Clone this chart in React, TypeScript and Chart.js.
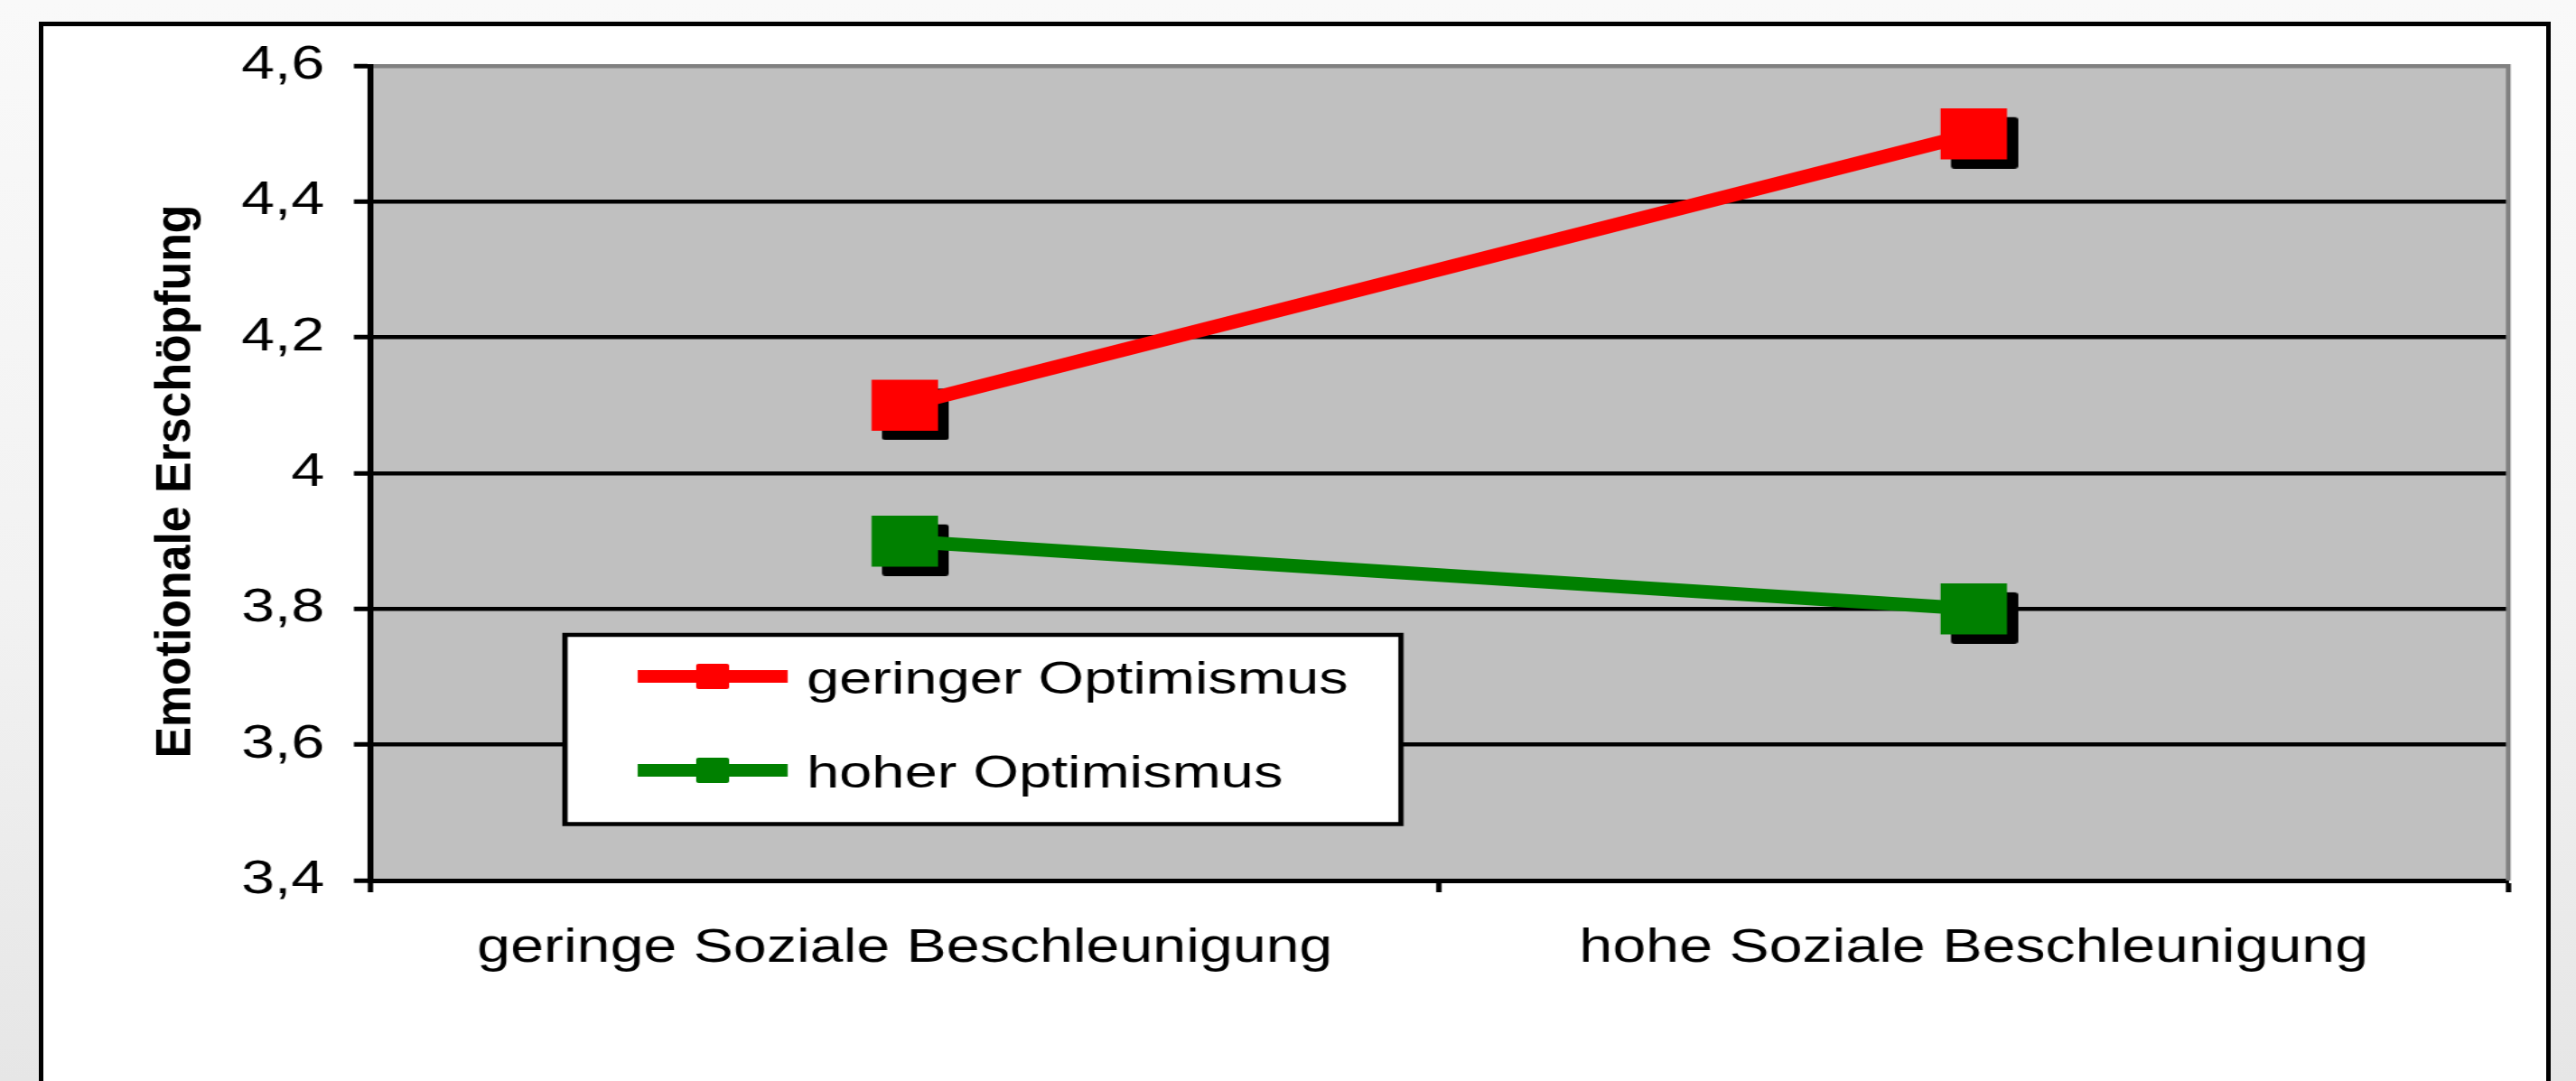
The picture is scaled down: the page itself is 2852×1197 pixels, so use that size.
import React, { useEffect, useRef } from 'react';
import { Chart, registerables } from 'chart.js';

Chart.register(...registerables);

// ---- data ----
const categories = ['geringe Soziale Beschleunigung', 'hohe Soziale Beschleunigung'];
const seriesNames = ['geringer Optimismus', 'hoher Optimismus'];
const geringerOptimismus = [4.1, 4.5];
const hoherOptimismus = [3.9, 3.8];
const seriesColors = ['#ff0000', '#008000'];
const yTickLabels = ['3,4', '3,6', '3,8', '4', '4,2', '4,4', '4,6'];
const yMin = 3.4;
const yMax = 4.6;
const yStep = 0.2;
const yTitle = 'Emotionale Erschöpfung';

// ---- layout ----
const PAGE_W = 2852;
const PAGE_H = 1197;
const CANVAS_W = 2194;
const SX = PAGE_W / CANVAS_W; // horizontal stretch of the original rendering
const FONT = '"Liberation Sans", Arial, Helvetica, sans-serif';
const px = (pageX: number) => pageX / SX;

function makeShadowImage() {
  const m = 57, dx = 9, dy = 10;
  const c = document.createElement('canvas');
  c.width = m + 2 * dx;
  c.height = m + 2 * dy;
  const g = c.getContext('2d')!;
  g.fillStyle = '#000';
  g.beginPath();
  (g as any).roundRect(2 * dx, 2 * dy, m, m, 3);
  g.fill();
  return c;
}

const plotBg = {
  id: 'plotBg',
  beforeDraw(chart: any) {
    const { ctx, chartArea: a } = chart;
    ctx.save();
    ctx.fillStyle = '#c0c0c0';
    ctx.fillRect(a.left, a.top, a.right - a.left, a.bottom - a.top);
    ctx.restore();
  },
  beforeDatasetsDraw(chart: any) {
    const { ctx, chartArea: a } = chart;
    ctx.save();
    ctx.strokeStyle = '#808080';
    ctx.lineWidth = 4;
    ctx.beginPath();
    ctx.moveTo(a.right, a.top - 2);
    ctx.lineTo(a.right, a.bottom);
    ctx.stroke();
    ctx.restore();
  },
};

const yTitlePlugin = {
  id: 'yTitleStretched',
  afterDraw(chart: any) {
    const { ctx } = chart;
    ctx.save();
    ctx.translate(px(210), 533);
    ctx.scale(1 / SX, 1);
    ctx.rotate(-Math.PI / 2);
    ctx.font = `bold 55px ${FONT}`;
    const w = ctx.measureText(yTitle).width;
    ctx.scale(613 / w, 1);
    ctx.textAlign = 'center';
    ctx.textBaseline = 'alphabetic';
    ctx.fillStyle = '#000';
    ctx.fillText(yTitle, 0, 0);
    ctx.restore();
  },
};

const legendPlugin = {
  id: 'legendBox',
  afterDatasetsDraw(chart: any) {
    const { ctx } = chart;
    const ds = chart.data.datasets.filter((d: any) => !d.isShadow);
    ctx.save();
    const x1 = px(625.5), x2 = px(1551), y1 = 703, y2 = 912.5;
    ctx.fillStyle = '#fff';
    ctx.fillRect(x1, y1, x2 - x1, y2 - y1);
    ctx.strokeStyle = '#000';
    ctx.lineWidth = 4.5;
    ctx.strokeRect(x1, y1, x2 - x1, y2 - y1);
    ds.forEach((d: any, i: number) => {
      const y = 749 + i * 104;
      ctx.strokeStyle = d.borderColor;
      ctx.lineWidth = 14;
      ctx.lineCap = 'butt';
      ctx.beginPath();
      ctx.moveTo(px(706), y);
      ctx.lineTo(px(872), y);
      ctx.stroke();
      ctx.fillStyle = d.backgroundColor;
      ctx.beginPath();
      ctx.roundRect(px(789) - 14, y - 14, 28, 28, 2);
      ctx.fill();
      ctx.fillStyle = '#000';
      ctx.font = `50px ${FONT}`;
      ctx.textAlign = 'left';
      ctx.textBaseline = 'alphabetic';
      ctx.fillText(d.label, px(893), y + 19);
    });
    ctx.restore();
  },
};

export default function App() {
  const ref = useRef<HTMLCanvasElement>(null);

  useEffect(() => {
    const shadow = makeShadowImage();
    const seriesData = [geringerOptimismus, hoherOptimismus];
    const lineSets = seriesData.map((data, i) => ({
      label: seriesNames[i],
      data,
      borderColor: seriesColors[i],
      backgroundColor: seriesColors[i],
      borderWidth: 15,
      tension: 0,
      pointStyle: 'rect',
      pointRadius: 40,
      pointHoverRadius: 40,
      pointBorderWidth: 0,
      pointBackgroundColor: seriesColors[i],
      order: 1,
    }));
    const shadowSets = seriesData.map((data, i) => ({
      label: seriesNames[i] + ' (Schatten)',
      isShadow: true,
      data,
      showLine: false,
      pointStyle: shadow,
      pointRadius: 40,
      pointHoverRadius: 40,
      order: 3,
    }));

    const chart = new Chart(ref.current!, {
      type: 'line',
      data: {
        labels: categories,
        datasets: [...lineSets, ...shadowSets] as any,
      },
      options: {
        responsive: false,
        animation: false,
        events: [],
        layout: {
          padding: { left: 0, top: 73, right: CANVAS_W - px(2777), bottom: 0 },
        },
        plugins: {
          legend: { display: false },
          tooltip: { enabled: false },
          title: { display: false },
        },
        scales: {
          x: {
            type: 'category',
            offset: true,
            grid: {
              display: true,
              offset: true,
              drawOnChartArea: false,
              drawTicks: true,
              tickLength: 13,
              tickWidth: 4.5,
              tickColor: '#000',
            },
            border: { display: true, color: '#000', width: 5 },
            ticks: {
              color: '#000',
              font: { family: FONT, size: 51 },
              padding: 32,
              maxRotation: 0,
              autoSkip: false,
            },
            afterFit: (s: any) => {
              s.height = PAGE_H - 975;
            },
          },
          y: {
            min: yMin,
            max: yMax,
            ticks: {
              stepSize: yStep,
              color: '#000',
              font: { family: FONT, size: 51 },
              padding: 25,
              callback: (v: any, i: number) => yTickLabels[i] ?? String(v).replace('.', ','),
            },
            grid: {
              color: (c: any) => (c.tick && Math.abs(c.tick.value - yMax) < 1e-6 ? '#808080' : '#000'),
              lineWidth: 4.5,
              drawTicks: true,
              tickLength: 14,
              tickWidth: 5,
              tickColor: '#000',
            },
            border: { display: true, color: '#000', width: 5 },
            afterFit: (s: any) => {
              s.width = px(410);
            },
          },
        },
      },
      plugins: [plotBg, yTitlePlugin, legendPlugin],
    });
    return () => chart.destroy();
  }, []);

  return (
    <div
      style={{
        position: 'fixed',
        left: 0,
        top: 0,
        width: PAGE_W,
        height: PAGE_H,
        overflow: 'hidden',
        background: 'linear-gradient(to bottom, #f9f9f9 0%, #f2f2f2 55%, #e6e6e6 100%)',
      }}
    >
      <div
        style={{
          position: 'absolute',
          left: 43,
          top: 24,
          width: 2781,
          height: 1300,
          border: '5px solid #000',
          background: '#fff',
          boxSizing: 'border-box',
        }}
      />
      <div
        style={{
          position: 'absolute',
          left: 0,
          top: 0,
          width: CANVAS_W,
          height: PAGE_H,
          transform: `scaleX(${SX})`,
          transformOrigin: '0 0',
        }}
      >
        <canvas
          ref={ref}
          width={CANVAS_W}
          height={PAGE_H}
          style={{ display: 'block', width: CANVAS_W, height: PAGE_H }}
        />
      </div>
    </div>
  );
}
